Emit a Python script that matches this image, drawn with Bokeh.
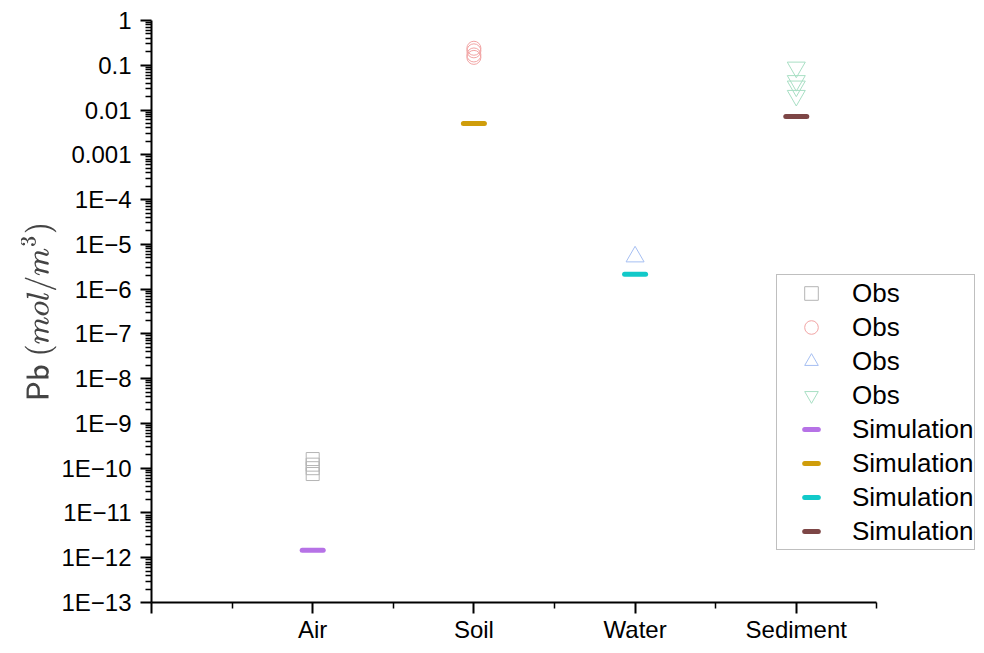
from bokeh.plotting import figure
from bokeh.models import FixedTicker, Legend, LegendItem, Range1d
from bokeh.embed import file_html
from bokeh.resources import INLINE

# ---------------- data ----------------
categories = ["Air", "Soil", "Water", "Sediment"]
category_pos = [1, 2, 3, 4]

obs_air = [1.6e-10, 1.2e-10, 1.0e-10, 7.4e-11]
obs_soil = [0.24, 0.21, 0.17, 0.15]
obs_water = [5.3e-6]
obs_sediment = [0.09, 0.045, 0.034, 0.021]

sim_values = [1.46e-12, 5.0e-3, 2.14e-6, 7.2e-3]

y_tick_values = [1e-13, 1e-12, 1e-11, 1e-10, 1e-9, 1e-8, 1e-7, 1e-6,
                 1e-5, 1e-4, 1e-3, 1e-2, 1e-1, 1.0]
y_tick_labels = ["1E\u221213", "1E\u221212", "1E\u221211", "1E\u221210", "1E\u22129",
                 "1E\u22128", "1E\u22127", "1E\u22126", "1E\u22125", "1E\u22124",
                 "0.001", "0.01", "0.1", "1"]

# ---------------- styles ----------------
FONT = "Liberation Sans"
obs_styles = [
    ("square", "#b4b4b4", 13),
    ("circle", "#f2a4a4", 14),
    ("triangle", "#a6bff2", 18),
    ("inverted_triangle", "#a8dfc4", 18),
]
sim_colors = ["#b672e6", "#cf9d0b", "#12c9c9", "#7d4646"]

# x axis runs 0..4.5; the frame extends further right to hold the legend
p = figure(width=976, height=645, y_axis_type="log",
           x_range=Range1d(0, 5.118), y_range=Range1d(1e-13, 1),
           output_backend="svg", toolbar_location=None,
           min_border_left=151, min_border_right=0,
           min_border_top=20, min_border_bottom=40)
p.outline_line_color = None
p.xgrid.visible = False
p.ygrid.visible = False
p.background_fill_color = "white"
p.border_fill_color = "white"

obs_sets = [obs_air, obs_soil, obs_water, obs_sediment]
obs_renderers = []
for pos, vals, (marker, color, size) in zip(category_pos, obs_sets, obs_styles):
    r = p.scatter([pos] * len(vals), vals, marker=marker, size=size,
                  fill_color=None, line_color=color, line_width=1)
    obs_renderers.append(r)

sim_renderers = []
for pos, val, color in zip(category_pos, sim_values, sim_colors):
    r = p.scatter([pos], [val], marker="dash", size=21, line_color=color,
                  line_width=5, line_cap="round")
    sim_renderers.append(r)

# ---------------- axes ----------------
xa = p.xaxis[0]
xa.bounds = (0, 4.5)
xa.ticker = FixedTicker(ticks=[0, 1, 2, 3, 4], minor_ticks=[0.5, 1.5, 2.5, 3.5, 4.5])
overrides = {0: ""}
for pos, cat in zip(category_pos, categories):
    overrides[pos] = cat
xa.major_label_overrides = overrides

ya = p.yaxis[0]
minor = []
for t in y_tick_values[:-1]:
    for k in range(2, 10):
        minor.append(t * k)
ya.ticker = FixedTicker(ticks=y_tick_values, minor_ticks=minor)
ya.major_label_overrides = dict(zip(y_tick_values, y_tick_labels))
ya.axis_label = r"$$\textsf{Pb}\ (mol/m^3)$$"
ya.axis_label_text_font_size = "26px"
ya.axis_label_text_font_style = "normal"
ya.axis_label_text_font = FONT
ya.axis_label_standoff = 2

for ax in (xa, ya):
    ax.axis_line_width = 2
    ax.axis_line_color = "black"
    ax.major_tick_line_width = 2
    ax.major_tick_line_color = "black"
    ax.minor_tick_line_width = 1.5
    ax.minor_tick_line_color = "black"
    ax.major_tick_out = 11
    ax.major_tick_in = 0
    ax.minor_tick_out = 6
    ax.minor_tick_in = 0
    ax.major_label_text_font = FONT
    ax.major_label_text_font_size = "24px"
    ax.major_label_text_color = "black"
xa.major_label_standoff = 2
ya.major_label_standoff = 9

# ---------------- legend ----------------
items = [LegendItem(label="Obs", renderers=[r]) for r in obs_renderers]
items += [LegendItem(label="Simulation", renderers=[r]) for r in sim_renderers]
legend = Legend(items=items, location=(625, 52),
                glyph_width=66, glyph_height=34, label_height=34,
                spacing=0, padding=1, label_standoff=8,
                label_text_font=FONT, label_text_font_size="26px",
                label_text_color="black",
                border_line_color="#808080", border_line_width=1,
                background_fill_color="white", background_fill_alpha=1)
p.add_layout(legend, "center")

open("out.html", "w").write(file_html(p, INLINE))
